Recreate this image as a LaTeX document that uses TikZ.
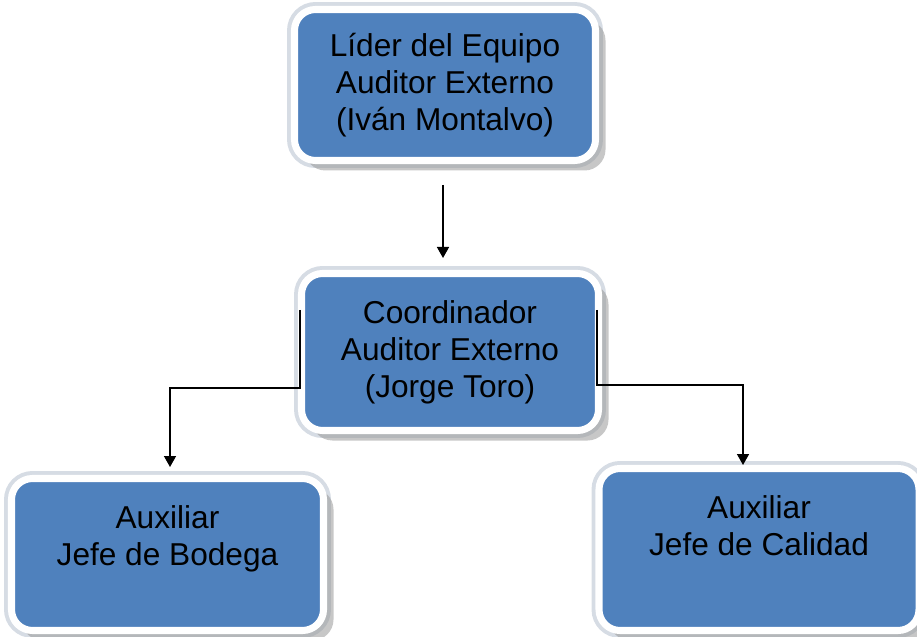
\documentclass[tikz,border=0pt]{standalone}
\usepackage{fontspec}
\setmainfont{Liberation Sans}
\usepackage{xcolor}
\usepackage{tikz}
\usetikzlibrary{arrows.meta,calc,shadows,positioning}
\definecolor{boxblue}{RGB}{79,129,189}
\definecolor{ringgray}{RGB}{214,220,228}

\begin{document}
\begin{tikzpicture}[>={Triangle[length=0.22cm,width=0.24cm]}]
\tikzstyle{orgbox}=[rectangle,rounded corners=0.42cm,fill=boxblue,draw=white,line width=4pt,
                    preaction={draw=ringgray,line width=8.5pt},
                    drop shadow={shadow xshift=0.2cm,shadow yshift=-0.2cm,fill=black!40,opacity=0.55},
                    align=center,inner sep=0pt,outer sep=0pt,
                    font=\fontsize{18}{21}\selectfont]
\tikzstyle{arrow}=[->,line width=0.85pt,black]

\useasboundingbox (0,0) rectangle (18.34,-12.74);

% --- Leader ---
\node[orgbox,minimum width=6.02cm,minimum height=3.02cm] (lider) at (8.9,-1.7)
  {Líder del Equipo\\Auditor Externo\\(Iván Montalvo)};

% --- Coordinator ---
\node[orgbox,minimum width=5.94cm,minimum height=3.14cm] (coord) at (9.0,-7.04)
  {Coordinador\\Auditor Externo\\(Jorge Toro)};

% --- Assistants ---
\node[orgbox,minimum width=6.24cm,minimum height=3.04cm] (bodega) at (3.35,-11.09)
  {Auxiliar\\Jefe de Bodega\\\vphantom{J}};
\node[orgbox,minimum width=6.40cm,minimum height=3.24cm] (calidad) at (15.18,-10.99)
  {Auxiliar\\Jefe de Calidad\\[0.2cm]\vphantom{J}};

% --- Arrows ---
\draw[arrow,shorten <=0.49cm,shorten >=0.31cm]
  ([xshift=-0.04cm]lider.south) -- ([xshift=-0.04cm]lider.south |- coord.north);
\draw[arrow,shorten >=0.23cm]
  ([xshift=-0.03cm,yshift=0.84cm]coord.west) -- ([xshift=-0.03cm,yshift=-0.72cm]coord.west)
  -| ([xshift=0.05cm]bodega.north);
\draw[arrow,shorten >=0.07cm]
  ([xshift=-0.03cm,yshift=0.84cm]coord.east) -- ([xshift=-0.03cm,yshift=-0.66cm]coord.east)
  -| ([xshift=-0.32cm]calidad.north);

\end{tikzpicture}
\end{document}
